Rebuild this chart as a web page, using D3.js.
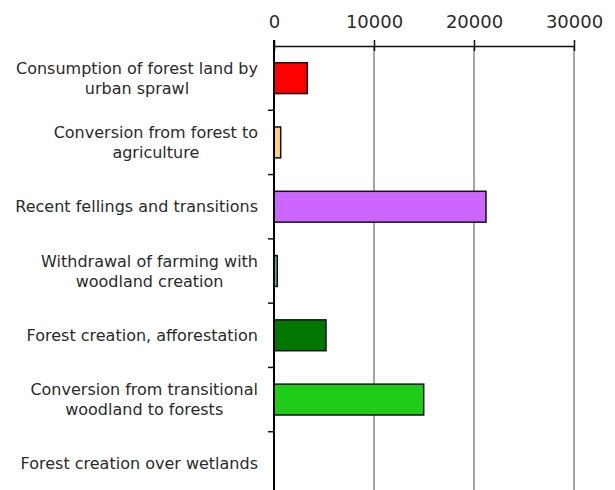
<!DOCTYPE html>
<html>
<head>
<meta charset="utf-8">
<script src="https://cdn.jsdelivr.net/npm/d3@7/dist/d3.min.js"></script>
<style>
  html, body { margin: 0; padding: 0; background: #fff; }
  svg { display: block; }
  text { font-family: "DejaVu Sans", Verdana, sans-serif; fill: #2a2a2a; }
</style>
</head>
<body>
<svg id="chart" width="615" height="490"></svg>
<script>
// Forest land flows (ha)
const categories = [
  ["Consumption of forest land by", "urban sprawl"],
  ["Conversion from forest to", "agriculture"],
  ["Recent fellings and transitions"],
  ["Withdrawal of farming with", "woodland creation"],
  ["Forest creation, afforestation"],
  ["Conversion from transitional", "woodland to forests"],
  ["Forest creation over wetlands"]
];
const values = [3330, 670, 21200, 330, 5200, 14970, 0];
const barColors = ["#ff0000", "#ffd280", "#cc66ff", "#50bd85", "#007700", "#1fcc1a", "#999999"];
const xTicks = [0, 10000, 20000, 30000];

const svg = d3.select("#chart");
const plotLeft = 274, plotRight = 574, plotTop = 46, plotBottom = 496;

const x = d3.scaleLinear().domain([0, 30000]).range([plotLeft, plotRight]);
const keys = categories.map((c, i) => i);
const y = d3.scaleBand().domain(keys).range([plotTop, plotBottom])
  .paddingInner(0.52).paddingOuter(0.26);
const step = y.step();

// vertical gridlines
svg.append("g")
  .selectAll("line")
  .data(xTicks.slice(1))
  .join("line")
  .attr("x1", d => x(d)).attr("x2", d => x(d))
  .attr("y1", plotTop).attr("y2", 490)
  .attr("stroke", "#888").attr("stroke-width", 1.5);

// bars
svg.append("g")
  .selectAll("rect")
  .data(values)
  .join("rect")
  .attr("x", x(0))
  .attr("y", (d, i) => y(i))
  .attr("width", d => x(d) - x(0))
  .attr("height", y.bandwidth())
  .attr("fill", (d, i) => barColors[i])
  .attr("stroke", d => d > 0 ? "#111" : "none")
  .attr("stroke-width", 1.5);

// top value axis
const xAxis = d3.axisTop(x).tickValues(xTicks).tickSize(6).tickSizeOuter(0).tickPadding(12)
  .tickFormat(d3.format("d"));
const gx = svg.append("g").attr("transform", `translate(0,${plotTop})`).call(xAxis);
gx.select(".domain").attr("stroke", "#111").attr("stroke-width", 1.5);
gx.selectAll(".tick line").attr("stroke", "#111").attr("stroke-width", 1.5).attr("y2", -6)
  .clone().attr("y2", 5);
gx.selectAll(".tick text").attr("font-size", 18)
  .attr("font-family", "DejaVu Sans, Verdana, sans-serif").attr("fill", "#2a2a2a");

// category axis line and ticks
svg.append("line")
  .attr("x1", plotLeft).attr("x2", plotLeft).attr("y1", plotTop - 6).attr("y2", 490)
  .attr("stroke", "#000").attr("stroke-width", 2);
svg.append("g")
  .selectAll("line")
  .data(keys.slice(1).concat([keys.length]))
  .join("line")
  .attr("x1", plotLeft - 6).attr("x2", plotLeft)
  .attr("y1", i => plotTop + i * step).attr("y2", i => plotTop + i * step)
  .attr("stroke", "#111").attr("stroke-width", 1.5);

// category labels: block right-aligned, lines centred within block
const labelRight = 258, lineH = 20;
const lg = svg.append("g");
categories.forEach((lines, i) => {
  const cy = y(i) + y.bandwidth() / 2;
  const g = lg.append("g");
  const texts = lines.map((t, j) => g.append("text")
    .attr("font-size", 16)
    .attr("text-anchor", "middle")
    .attr("dy", "0.35em")
    .attr("y", cy + (j - (lines.length - 1) / 2) * lineH)
    .text(t));
  const w = d3.max(texts, t => t.node().getComputedTextLength());
  texts.forEach(t => t.attr("x", labelRight - w / 2));
});
</script>
</body>
</html>
